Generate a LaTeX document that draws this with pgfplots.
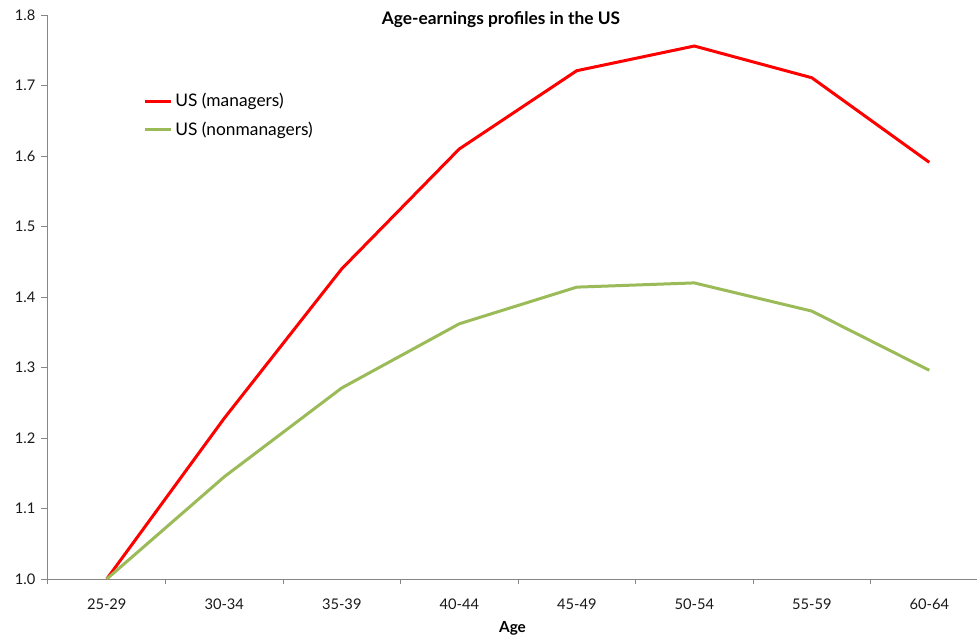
\documentclass[border=0pt]{standalone}
\usepackage{fontspec}
\setmainfont{Lato}
\usepackage{pgfplots}
\pgfplotsset{compat=1.18}
\definecolor{mgr}{HTML}{FF0000}
\definecolor{nonmgr}{HTML}{9BBB59}
\definecolor{axgray}{HTML}{868686}
\begin{document}
\begin{tikzpicture}
\begin{axis}[
  at={(0,0)}, anchor=south west,
  scale only axis,
  width=696.75pt, height=423pt,
  xmin=-0.5, xmax=7.406,
  ymin=1.0, ymax=1.8,
  axis x line*=bottom, axis y line*=left,
  axis line style={axgray, line width=0.75pt, -},
  xtick={0,...,7},
  xticklabels={25-29,30-34,35-39,40-44,45-49,50-54,55-59,60-64},
  major x tick style={draw=none},
  minor xtick={-0.5,0.5,...,6.5},
  minor x tick style={axgray, line width=0.75pt},
  minor tick length=4pt,
  ytick={1.0,1.1,...,1.8},
  major y tick style={axgray, line width=0.75pt},
  major tick length=5pt,
  tick align=outside,
  yticklabel style={/pgf/number format/fixed, /pgf/number format/precision=1, /pgf/number format/fixed zerofill, xshift=-1pt},
  /pgf/number format/assume math mode=true,
  ticklabel style={font=\fontsize{11}{13}\selectfont, text=black!90},
  xticklabel style={yshift=-6pt},
  xlabel={\textbf{Age}},
  xlabel style={font=\fontsize{11.5}{13}\selectfont, at={(axis description cs:0.5,0)}, anchor=north, yshift=-28pt},
  legend style={draw=none, fill=none, at={(rel axis cs:0.102,0.866)}, anchor=north west, font=\fontsize{13}{15}\selectfont, row sep=5.5pt, inner sep=0pt},
  legend cell align=left,
  legend image code/.code={\draw[#1, line width=2.25pt] (0pt,0pt) -- (20pt,0pt);},
  clip=false,
]
\addplot[mgr, line width=2.25pt] coordinates {
(0,1.0) (1,1.228) (2,1.440) (3,1.610) (4,1.721) (5,1.756) (6,1.711) (7,1.591)};
\addlegendentry{US (managers)}
\addplot[nonmgr, line width=2.25pt] coordinates {
(0,1.0) (1,1.145) (2,1.271) (3,1.362) (4,1.414) (5,1.420) (6,1.380) (7,1.296)};
\addlegendentry{US (nonmanagers)}
\node[font=\bfseries\fontsize{13}{15}\selectfont, anchor=center] at (rel axis cs:0.4876,0.991) {Age-earnings profiles in the US};
\end{axis}
\pgfresetboundingbox
\path[use as bounding box] (-36pt,-43.5pt) rectangle (696.75pt,434.25pt);
\end{tikzpicture}
\end{document}
